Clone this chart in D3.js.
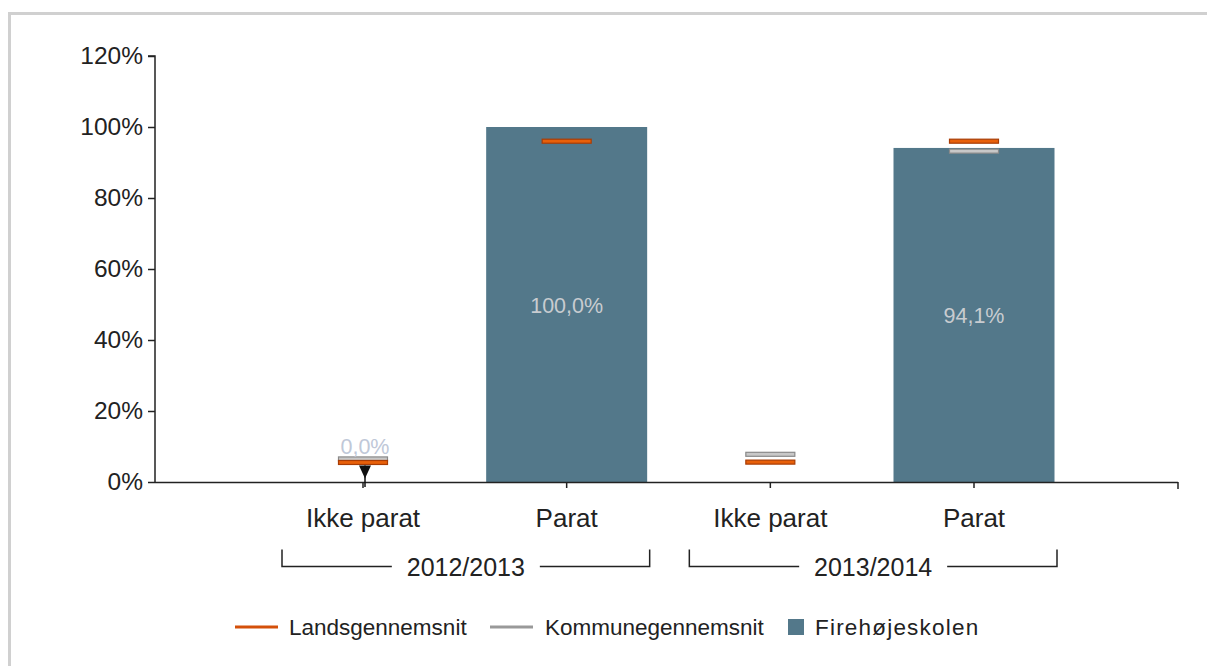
<!DOCTYPE html>
<html><head><meta charset="utf-8">
<script src="https://cdn.jsdelivr.net/npm/d3@7"></script>
<style>body{margin:0;background:#fff;}svg{display:block;font-family:"Liberation Sans",Arial,sans-serif;}</style>
</head><body>
<svg id="c" width="1207" height="666"></svg>
<script>
const groups = ["2012/2013", "2013/2014"];
const categories = ["Ikke parat", "Parat", "Ikke parat", "Parat"];
const categoryGroup = [0, 0, 1, 1];
const schoolValues = [0.0, 100.0, null, 94.1];
const landsValues = [5.5, 96.0, 5.6, 96.0];
const kommuneValues = [6.5, null, 7.8, 93.2];
const yTicks = [0, 20, 40, 60, 80, 100, 120];
const legendLabels = ["Landsgennemsnit", "Kommunegennemsnit", "Firehøjeskolen"];

const svg = d3.select("#c");
const C = {bar: "#53788a", orange: "#e8600a", orangeStroke: "#a83c05", gray: "#c8c8c8", grayStroke: "#8a8a8a", text: "#222"};

// frame
svg.append("path").attr("d", "M9.5,666 V13.5 H1207").attr("fill", "none").attr("stroke", "#d0d0d0").attr("stroke-width", 3);

const x0 = 155, x1 = 1178, yTop = 56, yBot = 482;
const y = d3.scaleLinear().domain([0, 120]).range([yBot, yTop]);
const x = d3.scaleLinear().domain([0, 3]).range([363, 974]);
const cx = i => x(i);

// y axis
const yAxis = svg.append("g").attr("transform", `translate(${x0},0)`)
  .call(d3.axisLeft(y).tickValues(yTicks).tickFormat(d => d + "%").tickSize(7).tickPadding(5));
yAxis.select(".domain").attr("stroke", "#222").attr("stroke-width", 1.5).attr("d", `M-7,${yTop}H0V${yBot}`);
yAxis.selectAll(".tick line").attr("stroke", "#222").attr("stroke-width", 1.5);
yAxis.selectAll("text").attr("font-size", 24.5).attr("fill", C.text).attr("font-family", "Liberation Sans, Arial, sans-serif");

// bars
const bw = 161;
svg.append("g").selectAll("rect").data(schoolValues.map((v, i) => ({v, i})).filter(d => d.v !== null && d.v > 0))
  .join("rect")
  .attr("x", d => cx(d.i) - bw / 2).attr("width", bw)
  .attr("y", d => y(d.v)).attr("height", d => yBot - y(d.v))
  .attr("fill", C.bar);

// x axis
const xg = svg.append("g");
xg.append("line").attr("x1", x0).attr("x2", x1).attr("y1", yBot + 0.5).attr("y2", yBot + 0.5).attr("stroke", "#222").attr("stroke-width", 1.5);
xg.append("line").attr("x1", x1).attr("x2", x1).attr("y1", yBot).attr("y2", yBot + 7).attr("stroke", "#222").attr("stroke-width", 1.5);
categories.forEach((c, i) => {
  xg.append("line").attr("x1", cx(i)).attr("x2", cx(i)).attr("y1", yBot).attr("y2", yBot + 6).attr("stroke", "#222").attr("stroke-width", 1.5);
  xg.append("text").attr("x", cx(i)).attr("y", yBot + 45).attr("text-anchor", "middle")
    .attr("font-size", 26).attr("fill", C.text).text(c);
});

// group brackets
groups.forEach((g, gi) => {
  const idx = categoryGroup.map((v, i) => v === gi ? i : -1).filter(i => i >= 0);
  const left = cx(idx[0]) - 81, right = cx(idx[idx.length - 1]) + 83;
  const mid = (left + right) / 2, by = 566.5;
  svg.append("path").attr("d", `M${left},${by - 17}V${by}H${mid - 74}M${mid + 74},${by}H${right}V${by - 17}`)
    .attr("fill", "none").attr("stroke", "#222").attr("stroke-width", 1.5);
  svg.append("text").attr("x", mid).attr("y", by + 9).attr("text-anchor", "middle")
    .attr("font-size", 25).attr("fill", C.text).text(g);
});

// markers
const mw = 49, mh = 4;
function markers(vals, fill, stroke) {
  svg.append("g").selectAll("rect").data(vals.map((v, i) => ({v, i})).filter(d => d.v !== null))
    .join("rect")
    .attr("x", d => cx(d.i) - mw / 2).attr("width", mw)
    .attr("y", d => y(d.v) - mh / 2).attr("height", mh)
    .attr("fill", fill).attr("stroke", stroke).attr("stroke-width", 1.2);
}
markers(kommuneValues, C.gray, C.grayStroke);
markers(landsValues, C.orange, C.orangeStroke);

// zero indicator triangle
schoolValues.forEach((v, i) => {
  if (v === 0) {
    const tx = cx(i) + 2, ty = y(landsValues[i]) + 3;
    svg.append("path").attr("d", `M${tx - 6},${ty}L${tx + 6},${ty}L${tx},${ty + 13}Z`).attr("fill", "#111");
    svg.append("line").attr("x1", tx).attr("x2", tx).attr("y1", ty).attr("y2", yBot + 5).attr("stroke", "#111").attr("stroke-width", 1.5);
  }
});

// value labels
const fmt = v => v.toFixed(1).replace(".", ",") + "%";
schoolValues.forEach((v, i) => {
  if (v === null) return;
  if (v > 0) {
    svg.append("text").attr("x", cx(i)).attr("y", (y(v) + yBot) / 2 + 8).attr("text-anchor", "middle")
      .attr("font-size", 21.5).attr("fill", "#c8ccd0").text(fmt(v));
  } else {
    svg.append("text").attr("x", cx(i) + 2).attr("y", y(landsValues[i]) - 8).attr("text-anchor", "middle")
      .attr("font-size", 21.5).attr("fill", "#c0c8d8").text(fmt(v));
  }
});

// legend
const ly = 627;
svg.append("line").attr("x1", 235).attr("x2", 278).attr("y1", ly).attr("y2", ly).attr("stroke", "#d4500a").attr("stroke-width", 3);
svg.append("text").attr("x", 289).attr("y", ly + 8).attr("font-size", 22.5).attr("fill", C.text).text(legendLabels[0]);
svg.append("line").attr("x1", 490).attr("x2", 533).attr("y1", ly).attr("y2", ly).attr("stroke", "#999").attr("stroke-width", 3);
svg.append("text").attr("x", 545).attr("y", ly + 8).attr("font-size", 22.5).attr("fill", C.text).text(legendLabels[1]);
svg.append("rect").attr("x", 788).attr("y", ly - 8).attr("width", 16).attr("height", 16).attr("fill", C.bar);
svg.append("text").attr("x", 815).attr("y", ly + 8).attr("font-size", 22.5).attr("letter-spacing", 1.2).attr("fill", C.text).text(legendLabels[2]);
</script>
</body></html>
